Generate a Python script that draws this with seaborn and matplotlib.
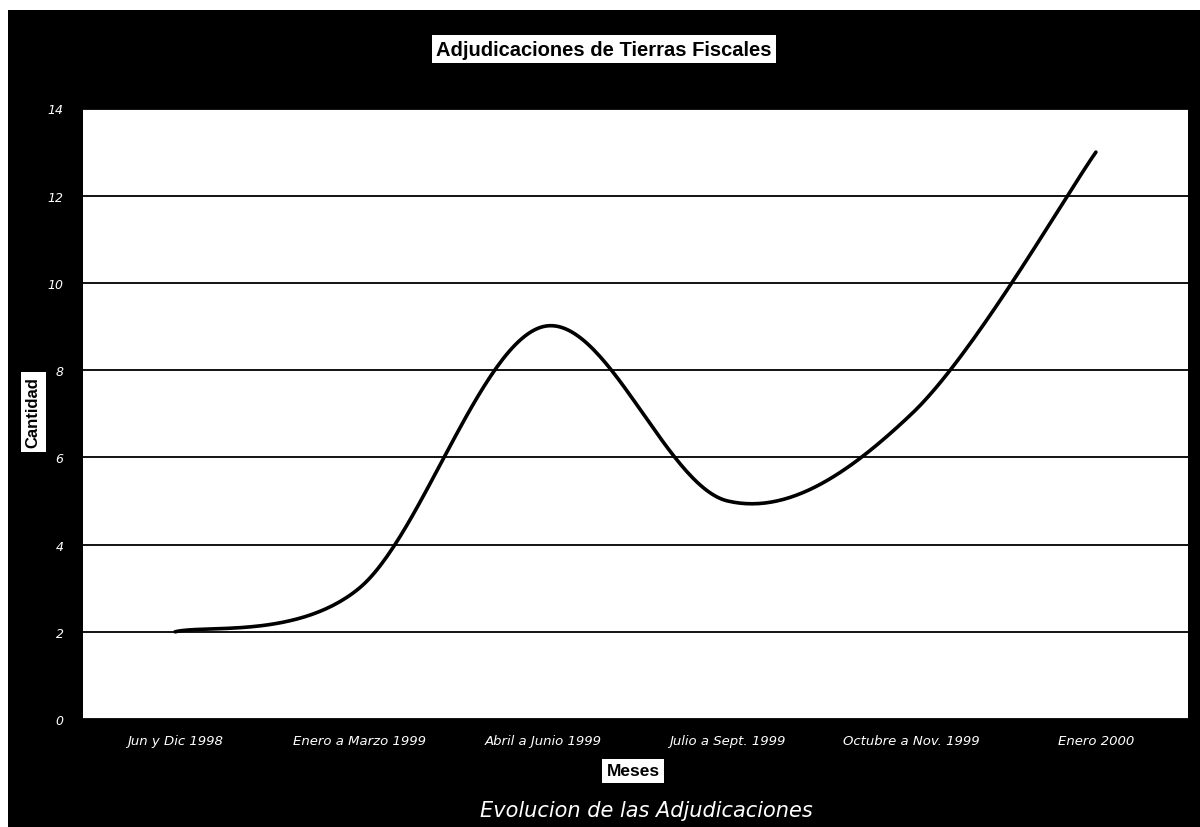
import numpy as np
import matplotlib
matplotlib.use("Agg")
import matplotlib.pyplot as plt
import seaborn as sns
from matplotlib.patches import Rectangle

# data
periodos = ["Jun y Dic 1998", "Enero a Marzo 1999", "Abril a Junio 1999",
            "Julio a Sept. 1999", "Octubre a Nov. 1999", "Enero 2000"]
cantidad = [2, 3, 9, 5, 7, 13]
y_ticks = [0, 2, 4, 6, 8, 10, 12, 14]

sns.set_style("white")
plt.rcParams["font.family"] = ["Liberation Sans", "DejaVu Sans"]


def smooth_curve(values, steps=60):
    """Excel style smoothed line: cubic Bezier between points (Catmull-Rom tangents)."""
    pts = np.column_stack([np.arange(len(values)), np.asarray(values, float)])
    ext = np.vstack([pts[0], pts, pts[-1]])
    t = np.linspace(0, 1, steps)[:, None]
    out = []
    for i in range(len(pts) - 1):
        p0, p1 = ext[i + 1], ext[i + 2]
        c1 = p0 + (ext[i + 2] - ext[i]) / 6
        c2 = p1 - (ext[i + 3] - ext[i + 1]) / 6
        seg = ((1 - t) ** 3) * p0 + 3 * ((1 - t) ** 2) * t * c1 + 3 * (1 - t) * t ** 2 * c2 + t ** 3 * p1
        out.append(seg if i == 0 else seg[1:])
    out = np.vstack(out)
    return out[:, 0], out[:, 1]


W, H = 1200, 828
fig = plt.figure(figsize=(W / 100, H / 100), dpi=100, facecolor="white")
# black chart area with a thin white margin on the left and top (scan edge)
fig.patches.append(Rectangle((8 / W, 0), 1, 1 - 11 / H, transform=fig.transFigure,
                             facecolor="black", edgecolor="none", zorder=-10))

ax = fig.add_axes([83 / W, 1 - 720 / H, (1188 - 83) / W, (720 - 109.5) / H])
ax.set_facecolor("white")

xs, ys = smooth_curve(cantidad)
sns.lineplot(x=xs, y=ys, sort=False, color="black", linewidth=2.6, ax=ax)

ax.set_xlim(-0.5, len(periodos) - 0.5)
ax.set_ylim(0, 14)
ax.set_yticks(y_ticks)
ax.set_xticks(range(len(periodos)))
ax.set_xticklabels(periodos)
ax.yaxis.grid(True, color="black", linewidth=1.3)
ax.xaxis.grid(False)
ax.set_axisbelow(True)
for s in ax.spines.values():
    s.set_visible(False)
ax.tick_params(axis="both", length=0, colors="white")
ax.tick_params(axis="x", pad=11, labelsize=9.5)
ax.tick_params(axis="y", pad=14, labelsize=9)
for lab in ax.get_xticklabels() + ax.get_yticklabels():
    lab.set_fontstyle("italic")
    lab.set_family(["DejaVu Sans"])
ax.set_xlabel("")
ax.set_ylabel("")

fig.text(604 / W, 1 - 50 / H, "Adjudicaciones de Tierras Fiscales", ha="center", va="center",
         fontsize=14.5, fontweight="bold", color="black",
         bbox=dict(boxstyle="square,pad=0.2", facecolor="white", edgecolor="none"))
fig.text(33 / W, 1 - 413 / H, "Cantidad", ha="center", va="center", rotation=90,
         fontsize=12, fontweight="bold", color="black",
         bbox=dict(boxstyle="square,pad=0.3", facecolor="white", edgecolor="none"))
fig.text(633 / W, 1 - 772 / H, "Meses", ha="center", va="center",
         fontsize=12.5, fontweight="bold", color="black",
         bbox=dict(boxstyle="square,pad=0.25", facecolor="white", edgecolor="none"))
fig.text(646 / W, 1 - 811 / H, "Evolucion de las Adjudicaciones", ha="center", va="center",
         fontsize=15, fontstyle="italic", color="white", family=["DejaVu Sans"])

fig.savefig("out.png", dpi=100, facecolor=fig.get_facecolor())
